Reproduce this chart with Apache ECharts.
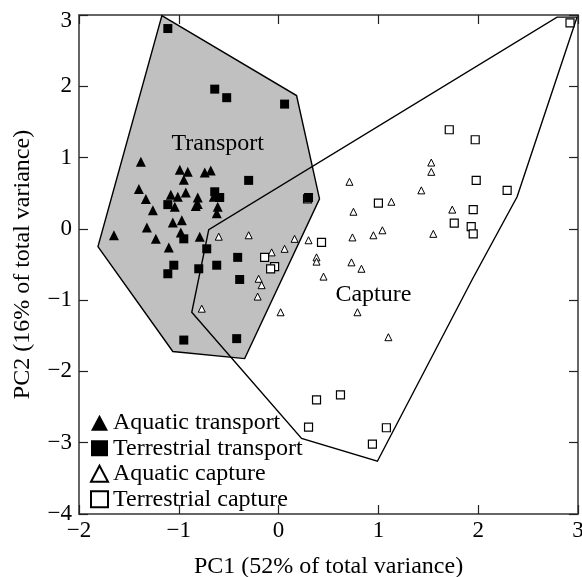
<!DOCTYPE html>
<html><head><meta charset="utf-8">
<script src="https://cdn.jsdelivr.net/npm/echarts@6/dist/echarts.min.js"></script>
<style>html,body{margin:0;padding:0;background:#fff}#c{width:582px;height:577px}</style>
</head><body><div id="c"></div>
<script>
const aquaticTransport = [[-1.38,0.94],[-0.99,0.83],[-0.91,0.80],[-0.95,0.69],[-0.74,0.79],[-0.68,0.82],[-1.40,0.56],[-1.33,0.42],[-1.26,0.26],[-1.08,0.48],[-1.01,0.45],[-0.93,0.51],[-0.81,0.44],[-0.81,0.35],[-0.83,0.32],[-0.65,0.45],[-0.61,0.31],[-0.62,0.22],[-1.04,0.31],[-1.06,0.09],[-0.97,0.12],[-1.32,0.02],[-1.23,-0.14],[-0.98,-0.05],[-0.79,-0.11],[-1.10,-0.26],[-1.65,-0.09]];
const terrestrialTransport = [[-1.11,2.81],[-0.64,1.96],[-0.52,1.84],[0.06,1.75],[-0.30,0.68],[-0.64,0.52],[-0.59,0.44],[-1.11,0.34],[-0.95,-0.14],[-0.72,-0.28],[-1.11,-0.63],[-1.05,-0.51],[-0.80,-0.56],[-0.62,-0.51],[-0.41,-0.40],[-0.39,-0.71],[-0.95,-1.56],[-0.42,-1.54],[0.30,0.44]];
const aquaticCapture = [[-0.60,-0.11],[-0.30,-0.09],[-0.07,-0.33],[0.06,-0.28],[0.16,-0.14],[0.30,-0.16],[-0.20,-0.70],[-0.17,-0.79],[-0.21,-0.95],[0.38,-0.40],[0.38,-0.46],[0.45,-0.67],[-0.77,-1.12],[0.02,-1.17],[0.71,0.66],[0.75,0.24],[1.13,0.38],[0.74,-0.12],[0.95,-0.09],[1.04,-0.02],[0.73,-0.47],[0.83,-0.56],[0.79,-1.17],[1.10,-1.52],[1.53,0.93],[1.53,0.80],[1.43,0.54],[1.74,0.27],[1.55,-0.07]];
const terrestrialCapture = [[-0.14,-0.40],[-0.04,-0.53],[-0.08,-0.56],[0.43,-0.19],[1.00,0.36],[1.98,0.68],[1.95,0.27],[1.76,0.08],[1.93,0.03],[1.95,-0.07],[1.71,1.39],[1.97,1.25],[2.29,0.54],[2.92,2.89],[0.38,-2.40],[0.62,-2.33],[0.30,-2.78],[1.08,-2.79],[0.94,-3.02],[0.29,0.42]];
const transportHull = [[-1.17,2.99],[0.18,1.87],[0.41,0.42],[-0.34,-1.82],[-1.06,-1.72],[-1.81,-0.25]];
const captureHull = [[2.79,2.97],[2.99,2.97],[2.39,0.45],[1.94,-0.71],[0.99,-3.26],[0.23,-2.94],[-0.87,-1.17],[-0.70,-0.01]];
const groupLabels = [['Transport',-0.61,1.19],['Capture',0.95,-0.93]];
const xTicks = {min:-2,max:3,interval:1};
const yTicks = {min:-4,max:3,interval:1};

const FONT = "'Liberation Serif', 'Times New Roman', serif";
const fmt = v => String(v).replace('-', '\u2212');
const chart = echarts.init(document.getElementById('c'));
const axisLine = {show:true, onZero:false, lineStyle:{color:'#666', width:2}};
const tick = {show:true, inside:true, length:9, lineStyle:{color:'#222', width:1.2}};
function polySeries(pts, fill, z){
  return {type:'custom', silent:true, z:z, xAxisIndex:0, yAxisIndex:0, data:[[pts[0][0],pts[0][1]]],
    renderItem:(p,api)=>({type:'polygon', shape:{points:pts.map(q=>api.coord(q))},
      style:{fill:fill, stroke:'#000', lineWidth:1.4}})};
}
chart.setOption({
  animation:false,
  textStyle:{fontFamily:FONT},
  grid:{left:79,right:4,top:15,bottom:63,containLabel:false,outerBoundsMode:'none'},
  xAxis:[
    {type:'value', ...xTicks, position:'bottom', axisLine, axisTick:tick, splitLine:{show:false},
     axisLabel:{formatter:fmt, color:'#000', fontSize:23, fontFamily:FONT, margin:5},
     name:'PC1 (52% of total variance)', nameLocation:'middle', nameGap:41,
     nameTextStyle:{color:'#000', fontSize:24, fontFamily:FONT}},
    {type:'value', ...xTicks, position:'top', axisLine, axisTick:tick, splitLine:{show:false}, axisLabel:{show:false}}
  ],
  yAxis:[
    {type:'value', ...yTicks, position:'left', axisLine, axisTick:tick, splitLine:{show:false},
     axisLabel:{formatter:v => v === yTicks.max ? '{t|' + fmt(v) + '}' : fmt(v),
       rich:{t:{fontSize:23, fontFamily:FONT, color:'#000', padding:[11,0,0,0]}},
       color:'#000', fontSize:23, fontFamily:FONT, margin:7},
     name:'PC2 (16% of total variance)', nameLocation:'middle', nameGap:44,
     nameTextStyle:{color:'#000', fontSize:24, fontFamily:FONT}},
    {type:'value', ...yTicks, position:'right', axisLine, axisTick:tick, splitLine:{show:false}, axisLabel:{show:false}}
  ],
  legend:{orient:'vertical', left:90, top:410, padding:0, itemWidth:17, itemHeight:16, itemGap:0,
    data:['Aquatic transport','Terrestrial transport','Aquatic capture','Terrestrial capture'],
    textStyle:{color:'#000', fontSize:24, lineHeight:25.5, fontFamily:FONT, padding:[0,0,0,0]}},
  series:[
    polySeries(transportHull,'#c0c0c0',1),
    polySeries(captureHull,'rgba(0,0,0,0)',2),
    {type:'custom', silent:true, z:3, data:groupLabels.map(g=>[g[1],g[2]]),
     renderItem:(p,api)=>{const c=api.coord([api.value(0),api.value(1)]);
       return {type:'text', x:c[0], y:c[1], style:{text:groupLabels[p.dataIndex][0], fill:'#000', font:'24px '+FONT, align:'center', verticalAlign:'middle'}};}},
    {name:'Aquatic capture', type:'scatter', z:4, symbol:'triangle', symbolSize:7, data:aquaticCapture,
     itemStyle:{color:'#fff', borderColor:'#000', borderWidth:1, opacity:1}},
    {name:'Terrestrial capture', type:'scatter', z:4, symbol:'rect', symbolSize:8, data:terrestrialCapture,
     itemStyle:{color:'#fff', borderColor:'#000', borderWidth:1.2, opacity:1}},
    {name:'Aquatic transport', type:'scatter', z:5, symbol:'triangle', symbolSize:10, data:aquaticTransport,
     itemStyle:{color:'#000', opacity:1}},
    {name:'Terrestrial transport', type:'scatter', z:5, symbol:'rect', symbolSize:9, data:terrestrialTransport,
     itemStyle:{color:'#000', opacity:1}}
  ]
});
</script></body></html>
